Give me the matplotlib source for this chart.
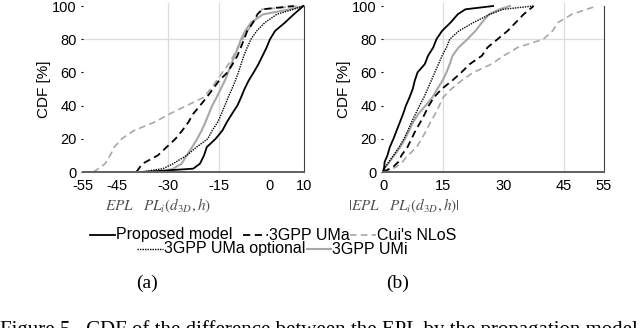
"""CDF of EPL minus model path loss, signed (a) and absolute (b)."""

import matplotlib

matplotlib.use("Agg")
import matplotlib.pyplot as plt
from matplotlib.lines import Line2D

SANS = ["Liberation Sans", "DejaVu Sans"]
SERIF = ["Liberation Serif", "DejaVu Serif"]
GRAY = "#a8a8a8"
GRID = "#dcdcdc"

# CDF levels [%], with matching x values per series
CDF_A = [0, 2, 5, 10, 15, 20, 25, 30, 35, 40, 45, 50, 55, 60, 65, 70, 75, 80, 85, 90, 95, 98, 100]
prop_a = [-37.4, -22.6, -20.6, -19.4, -18.6, -16, -14, -12.7, -11.2, -9.6, -8.5, -7.5,
          -6.3, -4.8, -3.4, -2.2, -1, 0, 1.5, 4.4, 7, 8.7, 9.8]
uma_a = [-39.3, -38.6, -37.5, -33, -30.4, -27.8, -25.8, -24, -22.6, -20.6, -18.6, -16.8,
         -15, -12.5, -11, -9.6, -8.6, -7.6, -6.7, -5, -3.7, -2.3, 7]
cui_a = [-52, -50.5, -48.5, -47, -45.8, -43.6, -40, -34, -29.5, -24.5, -19.5, -17.5,
         -15.7, -14, -12.2, -10.7, -9.5, -8, -6.5, -5, -3.2, -2.4, 9]
opt_a = [-38, -31.5, -28.5, -24.5, -21.6, -18.3, -17, -15.4, -14.3, -13.3, -12.3, -11.2,
         -10.2, -9.3, -8.5, -7.7, -6.7, -5.6, -3.9, -1.5, 2, 6.8, 9.8]
umi_a = [-31.5, -28.5, -26, -24.5, -22.9, -21.4, -20.1, -19, -18, -17, -15.7, -14.5,
         -13.3, -12.3, -11.4, -10.4, -9.4, -8.5, -7.3, -5.6, -2, 5.9, 9.8]

CDF_B = [0, 3, 6, 10, 15, 20, 25, 30, 35, 40, 45, 50, 55, 60, 65, 70, 75, 80, 85, 90, 95, 98, 100]
prop_b = [0, 0.3, 0.4, 1.1, 1.7, 2.6, 3.4, 4.2, 5.0, 5.7, 6.6, 7.4, 7.9, 8.6, 10.4, 11.2,
          12.5, 13.3, 14.7, 16.8, 18.6, 20.5, 27.4]
uma_b = [0, 2.5, 3.8, 4.6, 6.1, 7.1, 8.1, 9.3, 10.4, 11.4, 12.7, 14.6, 17.2, 19.5, 21.6,
         24.6, 26, 28.5, 31, 33, 35, 36.5, 37.5]
cui_b = [0, 3.3, 4.8, 6.2, 8.4, 9.6, 10.8, 11.8, 13, 14, 15, 17, 19.5, 22.5, 27, 30,
         33.5, 39.9, 42.2, 43.5, 47, 50.7, 53.2]
opt_b = [0, 0.6, 1.4, 2.6, 4, 5.2, 6.2, 7.1, 8.1, 9.1, 10.2, 11.1, 12, 12.9, 13.8, 14.7,
         15.8, 16.6, 18.9, 22.5, 26.6, 29.9, 37.4]
umi_b = [0, 0.6, 1.6, 2.8, 4.3, 5.5, 6.5, 7.5, 8.8, 10.6, 12.3, 13.5, 14.8, 15.8, 16.6,
         17.3, 18.8, 21, 23, 24.6, 26.4, 29, 31.6]

XTICKS_A = [-55, -45, -30, -15, 0, 10]
XTICKS_B = [0, 15, 30, 45, 55]
YTICKS = [0, 20, 40, 60, 80, 100]

STYLES = {
    "Proposed model": dict(color="black", linestyle="-", linewidth=1.3),
    "3GPP UMa": dict(color="black", linestyle=(0, (4, 2.5)), linewidth=1.3),
    "Cui's NLoS": dict(color=GRAY, linestyle=(0, (4, 2.5)), linewidth=1.2),
    "3GPP UMa optional": dict(color="black", linestyle=(0, (1, 0.8)), linewidth=1.0),
    "3GPP UMi": dict(color=GRAY, linestyle="-", linewidth=1.5),
}

plt.rcParams.update({
    "font.family": SANS,
    "font.size": 10,
    "axes.unicode_minus": False,
    "mathtext.fontset": "stix",
})

fig = plt.figure(figsize=(6.4, 3.28), dpi=100)
ax_a = fig.add_axes([83 / 640, 1 - 172 / 328, 221 / 640, 166 / 328])
ax_b = fig.add_axes([383 / 640, 1 - 172 / 328, 221 / 640, 166 / 328])

panels = [
    (ax_a, CDF_A, [prop_a, uma_a, cui_a, opt_a, umi_a], (-55, 10), XTICKS_A, [-30, -15]),
    (ax_b, CDF_B, [prop_b, uma_b, cui_b, opt_b, umi_b], (0, 55), XTICKS_B, [15, 45]),
]
order = ["Proposed model", "3GPP UMa", "Cui's NLoS", "3GPP UMa optional", "3GPP UMi"]
draw_order = ["Cui's NLoS", "3GPP UMi", "3GPP UMa", "3GPP UMa optional", "Proposed model"]

for ax, cdf, series, xlim, xticks, vgrid in panels:
    data = dict(zip(order, series))
    for v in vgrid:
        ax.plot([v, v], [0, 102], color=GRID, linewidth=0.9, zorder=0, clip_on=False)
    ax.axhline(80, color=GRID, linewidth=0.9, zorder=0)
    for name in draw_order:
        ax.plot(data[name], cdf, clip_on=False, **STYLES[name])
    ax.set_xlim(*xlim)
    ax.set_ylim(0, 100)
    ax.set_xticks(xticks)
    ax.set_yticks(YTICKS)
    ax.spines["top"].set_visible(False)
    ax.spines["left"].set_visible(False)
    ax.spines["right"].set_color("#404040")
    ax.spines["bottom"].set_color("#606060")
    ax.spines["bottom"].set_linewidth(1.4)
    ax.tick_params(axis="x", length=0, pad=5, labelsize=10.5)
    ax.tick_params(axis="y", length=1.5, width=0.8, pad=3, labelsize=10.5)
    ax.set_ylabel("CDF [%]", fontsize=11, labelpad=1)

fig.text(158 / 640, 1 - 206 / 328, r"$EPL\quad PL_i(d_{3D},h)$", ha="center", va="center",
         fontsize=11, color="#505050")
fig.text(404 / 640, 1 - 206 / 328, r"$|EPL\quad PL_i(d_{3D},h)|$", ha="center", va="center",
         fontsize=11, color="#505050")

# legend laid out as in the figure (two uneven rows)
legend_rows = [
    (235, [("Proposed model", 90, 115), ("3GPP UMa", 243, 268), ("Cui's NLoS", 350, 376)]),
    (249, [("3GPP UMa optional", 137, 163), ("3GPP UMi", 307, 331)]),
]
for py, entries in legend_rows:
    y = 1 - py / 328
    for name, x0, x1 in entries:
        fig.add_artist(Line2D([x0 / 640, x1 / 640], [y, y], transform=fig.transFigure,
                              **STYLES[name]))
        fig.text(x1 / 640 + 0.002, y, name, ha="left", va="center", fontsize=11.5)

fig.text(147 / 640, 1 - 283 / 328, "(a)", ha="center", va="center", fontsize=14,
         family=SERIF)
fig.text(398 / 640, 1 - 283 / 328, "(b)", ha="center", va="center", fontsize=14,
         family=SERIF)
fig.text(0.0, 1 - 320 / 328,
         "Figure 5.  CDF of the difference between the EPL by the propagation model and",
         ha="left", va="top", fontsize=15, family=SERIF)

fig.savefig("out.png", dpi=100)
plt.close(fig)
